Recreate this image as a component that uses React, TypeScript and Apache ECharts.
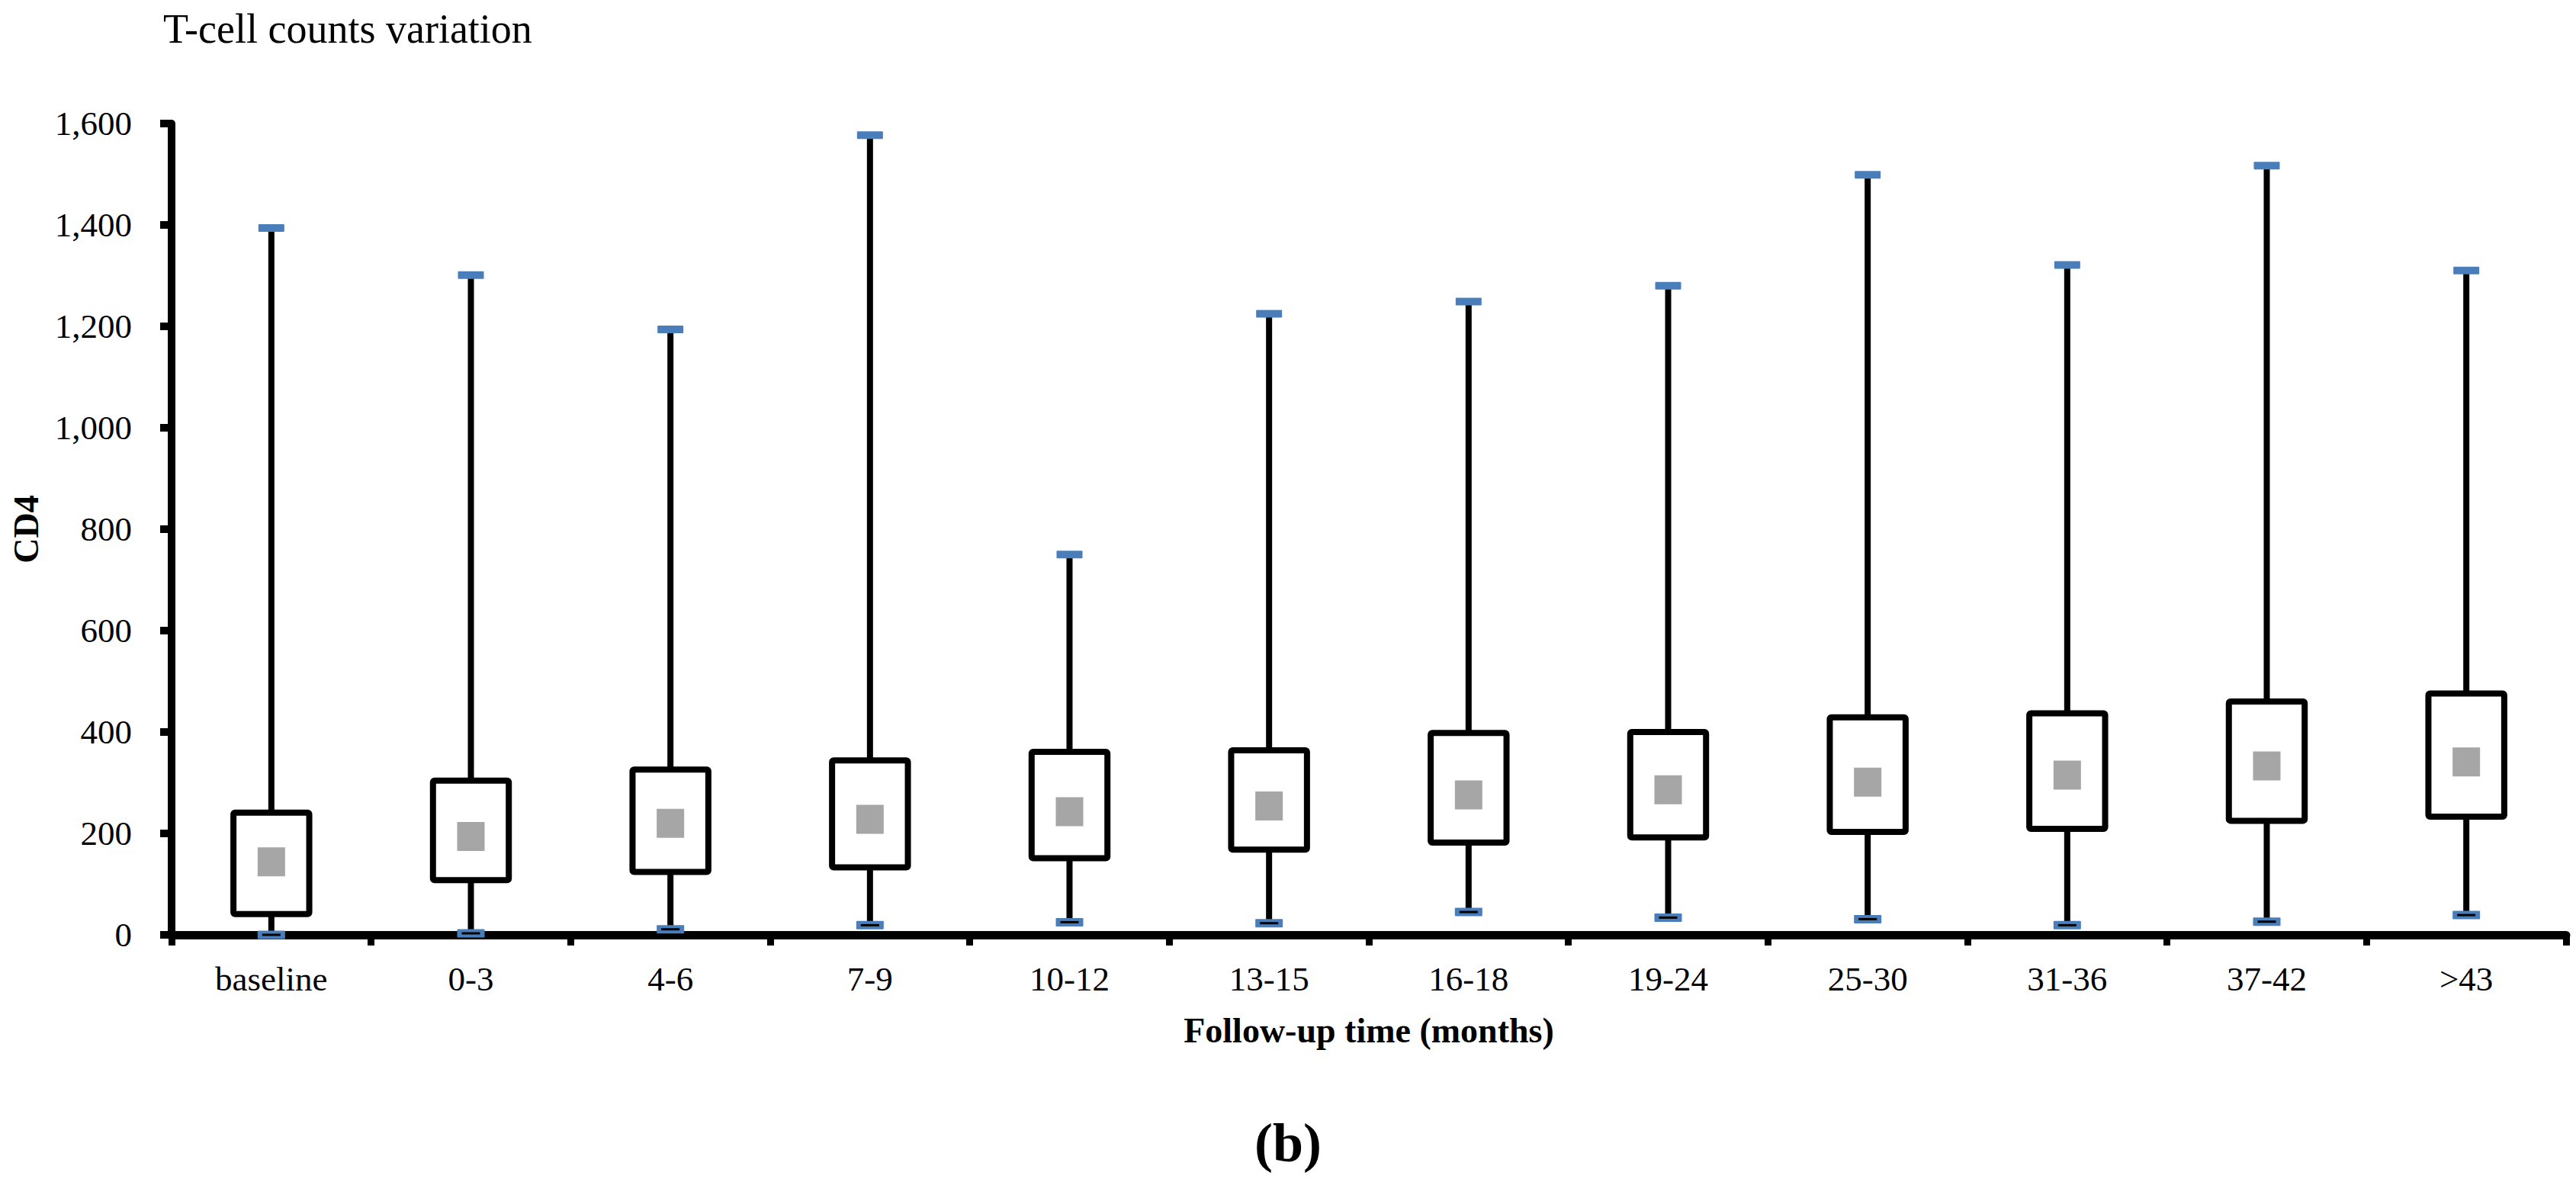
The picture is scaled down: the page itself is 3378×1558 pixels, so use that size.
import React, { useEffect, useRef } from "react";
import * as echarts from "echarts";

const categories = ["baseline", "0-3", "4-6", "7-9", "10-12", "13-15", "16-18", "19-24", "25-30", "31-36", "37-42", ">43"];
const maxValues = [1394, 1301, 1194, 1577, 750, 1225, 1249, 1280, 1499, 1321, 1517, 1310];
const q3Values = [241, 304, 326, 344, 361, 364, 398, 400, 429, 437, 460, 476];
const meanValues = [144, 194, 220, 228, 243, 254, 276, 286, 301, 315, 333, 341];
const q1Values = [41, 108, 124, 133, 151, 168, 182, 192, 203, 209, 225, 233];
const minValues = [0, 3, 11, 19, 25, 23, 45, 34, 31, 19, 26, 39];
const yMin = 0;
const yMax = 1600;
const yInterval = 200;

const titleText = "T-cell counts variation";
const xAxisName = "Follow-up time (months)";
const yAxisName = "CD4";
const panelLabel = "(b)";

const FONT = "'Liberation Serif', 'Times New Roman', serif";

export default function App() {
  const ref = useRef<HTMLDivElement>(null);
  useEffect(() => {
    if (!ref.current) return;
    const chart = echarts.init(ref.current, null, { renderer: "svg" });
    const data = categories.map((_, i) => [i, minValues[i], q1Values[i], meanValues[i], q3Values[i], maxValues[i]]);
    chart.setOption({
      animation: false,
      backgroundColor: "#ffffff",
      textStyle: { fontFamily: FONT, color: "#000" },
      grid: { left: 225, right: 13, top: 162, bottom: 332, containLabel: false },
      graphic: [
        {
          type: "text",
          x: 214,
          y: 38,
          style: { text: titleText, fontSize: 54, fontFamily: FONT, fill: "#000", align: "left", verticalAlign: "middle" },
        },
        {
          type: "text",
          x: 1689,
          y: 1499,
          style: { text: panelLabel, fontSize: 72, fontWeight: "bold", fontFamily: FONT, fill: "#000", align: "center", verticalAlign: "middle" },
        },
      ],
      xAxis: {
        type: "category",
        data: categories,
        boundaryGap: true,
        name: xAxisName,
        nameLocation: "middle",
        nameGap: 102,
        nameTextStyle: { fontSize: 46, fontWeight: "bold", fontFamily: FONT, color: "#000" },
        axisLine: { show: true, lineStyle: { color: "#000", width: 11 } },
        axisTick: { show: true, interval: 0, length: 14, lineStyle: { color: "#000", width: 9 } },
        axisLabel: { interval: 0, fontSize: 45, margin: 35, color: "#000", fontFamily: FONT },
        splitLine: { show: false },
      },
      yAxis: {
        type: "value",
        min: yMin,
        max: yMax,
        interval: yInterval,
        name: yAxisName,
        nameLocation: "middle",
        nameGap: 168,
        nameRotate: 90,
        nameTextStyle: { fontSize: 46, fontWeight: "bold", fontFamily: FONT, color: "#000" },
        axisLine: { show: true, lineStyle: { color: "#000", width: 10 } },
        axisTick: { show: true, length: 15, lineStyle: { color: "#000", width: 10 } },
        axisLabel: {
          fontSize: 45,
          margin: 52,
          color: "#000",
          fontFamily: FONT,
          formatter: (v: number) => v.toLocaleString("en-US"),
        },
        splitLine: { show: false },
      },
      series: [
        {
          type: "custom",
          clip: false,
          encode: { x: 0, y: [1, 2, 3, 4, 5] },
          data,
          renderItem: (params: any, api: any) => {
            const i = api.value(0);
            const pMin = api.coord([i, api.value(1)]);
            const x = pMin[0];
            const yLo = pMin[1];
            const yQ1 = api.coord([i, api.value(2)])[1];
            const yMean = api.coord([i, api.value(3)])[1];
            const yQ3 = api.coord([i, api.value(4)])[1];
            const yHi = api.coord([i, api.value(5)])[1];
            const band = api.size([1, 0])[0];
            const boxW = band * 0.38;
            return {
              type: "group",
              children: [
                { type: "line", shape: { x1: x, y1: yHi, x2: x, y2: yQ3 }, style: { stroke: "#000", lineWidth: 8 } },
                { type: "line", shape: { x1: x, y1: yQ1, x2: x, y2: yLo }, style: { stroke: "#000", lineWidth: 8 } },
                {
                  type: "rect",
                  shape: { x: x - boxW / 2, y: yQ3, width: boxW, height: yQ1 - yQ3, r: 2 },
                  style: { fill: "#fff", stroke: "#000", lineWidth: 8, lineJoin: "round" },
                },
                { type: "rect", shape: { x: x - 18, y: yMean - 19, width: 36, height: 38 }, style: { fill: "#A6A6A6" } },
                { type: "rect", shape: { x: x - 17, y: yHi - 5, width: 34, height: 10, r: 1 }, style: { fill: "#4A7EBB" } },
                { type: "rect", shape: { x: x - 18, y: yLo - 5.5, width: 36, height: 11, r: 1 }, style: { fill: "#4A7EBB" } },
                { type: "line", shape: { x1: x - 12, y1: yLo, x2: x + 12, y2: yLo }, style: { stroke: "#000", lineWidth: 3 } },
              ],
            };
          },
        },
      ],
    });
    return () => chart.dispose();
  }, []);
  return <div ref={ref} style={{ position: "absolute", left: 0, top: 0, width: 3378, height: 1558 }} />;
}
